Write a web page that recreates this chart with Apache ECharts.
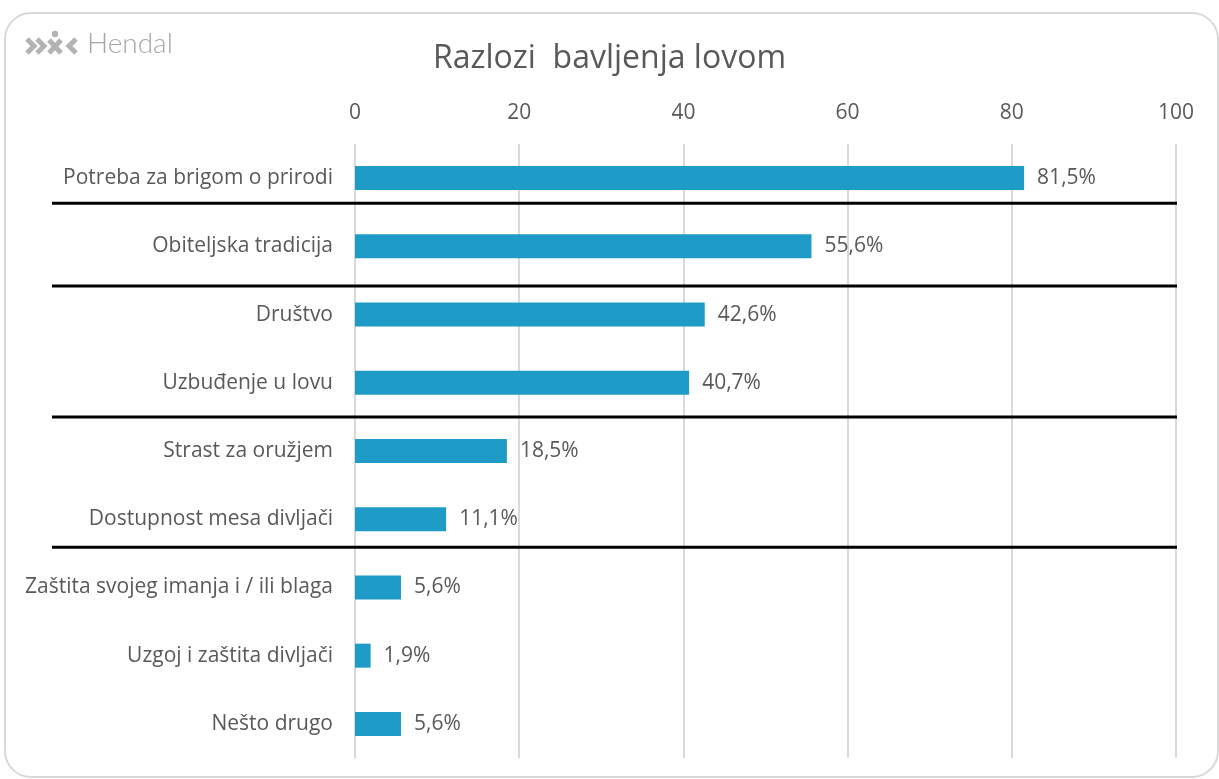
<!DOCTYPE html>
<html>
<head>
<meta charset="utf-8">
<script src="https://cdn.jsdelivr.net/npm/echarts@6/dist/echarts.min.js"></script>
<style>
  html, body { margin: 0; padding: 0; background: #fff; }
  #chart { width: 1219px; height: 779px; }
</style>
</head>
<body>
<div id="chart"></div>
<script>
// kategorije i vrijednosti (%)
const categories = [
  "Potreba za brigom o prirodi",
  "Obiteljska tradicija",
  "Društvo",
  "Uzbuđenje u lovu",
  "Strast za oružjem",
  "Dostupnost mesa divljači",
  "Zaštita svojeg imanja i / ili blaga",
  "Uzgoj i zaštita divljači",
  "Nešto drugo"
];
const values = [81.5, 55.6, 42.6, 40.7, 18.5, 11.1, 5.6, 1.9, 5.6];
const xTicks = [0, 20, 40, 60, 80, 100];
// crne razdjelne linije, u jedinicama kategorija (od vrha)
const separators = [0.87, 2.08, 4.0, 5.91];

const font = "'Open Sans', 'Noto Sans', sans-serif";
const textColor = "#595959";

const chart = echarts.init(document.getElementById("chart"));

chart.setOption({
  backgroundColor: "#fff",
  animation: false,
  title: {
    text: "Razlozi  bavljenja lovom",
    left: "center",
    top: 38,
    textStyle: { fontFamily: font, fontSize: 32, fontWeight: "normal", color: textColor }
  },
  grid: { left: 355, right: 43, top: 144, bottom: 21 },
  xAxis: {
    type: "value",
    position: "top",
    min: xTicks[0],
    max: xTicks[xTicks.length - 1],
    interval: 20,
    axisLine: { show: false },
    axisTick: { show: false },
    axisLabel: { margin: 20, fontFamily: font, fontSize: 21, color: textColor },
    splitLine: { lineStyle: { color: "#d9d9d9", width: 2 } }
  },
  yAxis: [
    {
      type: "category",
      inverse: true,
      data: categories,
      axisLine: { show: false },
      axisTick: { show: false },
      axisLabel: { margin: 22, padding: [2, 0, 0, 0], fontFamily: font, fontSize: 21, color: textColor }
    },
    {
      // pomoćna os za razdjelne linije
      type: "value",
      inverse: true,
      min: 0,
      max: categories.length,
      show: false
    }
  ],
  series: [
    {
      type: "bar",
      data: values,
      barWidth: 24,
      itemStyle: { color: "#1E9BC6" },
      label: {
        show: true,
        position: "right",
        distance: 13,
        padding: [3, 0, 0, 0],
        fontFamily: font,
        fontSize: 21,
        color: textColor,
        formatter: (p) => p.value.toFixed(1).replace(".", ",") + "%"
      }
    }
  ]
});

// okvir, logo i razdjelne linije
const logoColor = "#b3b3b3";
const graphics = [
  {
    type: "rect",
    shape: { x: 5, y: 13, width: 1213, height: 764, r: 26 },
    style: { fill: "none", stroke: "#d9d9d9", lineWidth: 2 },
    z: 0
  },
  {
    type: "polyline",
    shape: { points: [[27, 39], [34, 46], [27, 53]] },
    style: { fill: "none", stroke: logoColor, lineWidth: 5 }
  },
  {
    type: "polyline",
    shape: { points: [[37, 39], [44, 46], [37, 53]] },
    style: { fill: "none", stroke: logoColor, lineWidth: 5 }
  },
  {
    type: "polyline",
    shape: { points: [[49, 40], [61, 53]] },
    style: { fill: "none", stroke: logoColor, lineWidth: 5 }
  },
  {
    type: "polyline",
    shape: { points: [[61, 40], [49, 53]] },
    style: { fill: "none", stroke: logoColor, lineWidth: 5 }
  },
  {
    type: "circle",
    shape: { cx: 55, cy: 34, r: 3.2 },
    style: { fill: logoColor }
  },
  {
    type: "polyline",
    shape: { points: [[76, 39], [69, 46], [76, 53]] },
    style: { fill: "none", stroke: logoColor, lineWidth: 5 }
  },
  {
    type: "text",
    x: 87,
    y: 30,
    style: { text: "Hendal", fontFamily: "'Lato', sans-serif", fontSize: 28, fontWeight: 300, fill: "#a6a6a6" }
  }
];

separators.forEach((s) => {
  const y = chart.convertToPixel({ yAxisIndex: 1 }, s);
  graphics.push({
    type: "line",
    shape: { x1: 52, y1: y, x2: 1177, y2: y },
    style: { stroke: "#000", lineWidth: 3 },
    z: 10
  });
});

chart.setOption({ graphic: graphics });
</script>
</body>
</html>
